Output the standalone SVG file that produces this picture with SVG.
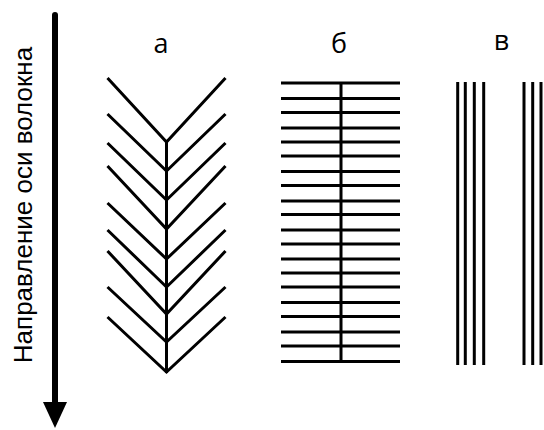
<svg xmlns="http://www.w3.org/2000/svg" width="544" height="430" viewBox="0 0 544 430">
<style>
.s{stroke:#000;stroke-width:3;fill:none;stroke-linecap:butt}
.lbl{font-family:"Open Sans","Liberation Sans",sans-serif;font-size:27px;fill:#000;text-anchor:middle}
.ax{font-family:"Liberation Sans",Arial,sans-serif;font-size:26px;fill:#000;text-anchor:middle}
</style>
<rect width="544" height="430" fill="#fff"/>
<g id="axis">
<line x1="55" y1="15" x2="55" y2="406" stroke="#000" stroke-width="6" stroke-linecap="round"/>
<polygon points="43,402 67,402 55,428" fill="#000"/>
<text class="ax" transform="translate(31.5,205) rotate(-90)">Направление оси волокна</text>
</g>
<g id="panel-a">
<text class="lbl" x="161" y="53">а</text>
<path class="s" d="M166.5,142 V373
M107.5,78 L166.5,142 L225.5,78
M107.5,114 L166.5,171 L225.5,114
M107.5,143 L166.5,200 L225.5,143
M107.5,166 L166.5,229 L225.5,166
M107.5,203 L166.5,259 L225.5,203
M107.5,230 L166.5,287 L225.5,230
M107.5,251 L166.5,314 L225.5,251
M107.5,287 L166.5,342 L225.5,287
M107.5,317 L166.5,372 L225.5,317" stroke-linejoin="miter"/>
</g>
<g id="panel-b">
<text class="lbl" x="339" y="53">б</text>
<path class="s" d="M341,83 V362
M281,83 H400 M281,98.5 H400 M281,112.5 H400 M281,128 H400 M281,142 H400
M281,156 H400 M281,171.5 H400 M281,185.5 H400 M281,201 H400 M281,214.5 H400
M281,230 H400 M281,244 H400 M281,259 H400 M281,273 H400 M281,287 H400
M281,302.5 H400 M281,316.5 H400 M281,332 H400 M281,346 H400 M281,361.5 H400"/>
</g>
<g id="panel-c">
<text class="lbl" x="501.5" y="50">в</text>
<path class="s" d="M457.7,82 V365 M465.3,82 V365 M474.3,82 V365 M483.7,82 V365
M524,82 V365 M532.7,82 V365 M541,82 V365"/>
</g>
</svg>
